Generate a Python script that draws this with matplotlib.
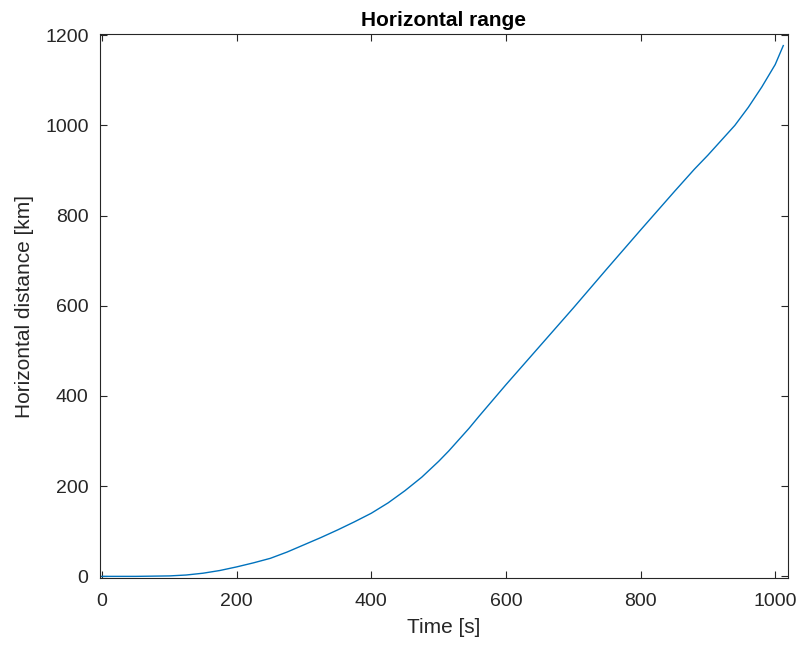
import matplotlib.pyplot as plt

# time [s] and horizontal distance [km]
time_s = [0, 50, 100, 125, 150, 175, 200, 225, 250, 275, 300, 325, 350, 375,
          400, 425, 450, 475, 500, 515, 530, 545, 560, 600, 650, 700, 750, 800,
          850, 880, 900, 920, 940, 960, 980, 1000, 1012]
dist_km = [0, 0, 1, 3, 7, 13, 21, 30, 40, 54, 70, 86, 103, 121,
           140, 163, 190, 220, 255, 278, 303, 328, 355, 425, 510, 595, 682, 768,
           853, 903, 934, 967, 1000, 1040, 1085, 1135, 1177]

x_ticks = [0, 200, 400, 600, 800, 1000]
y_ticks = [0, 200, 400, 600, 800, 1000, 1200]

plt.rcParams['font.family'] = ['Liberation Sans', 'DejaVu Sans']
axis_color = '#262626'

fig = plt.figure(figsize=(8, 6.5), dpi=100)
ax = fig.add_axes([0.1246, 0.1112, 0.8604, 0.836])

ax.plot(time_s, dist_km, color='#0072BD', linewidth=1.0)

ax.set_xlim(-3.5, 1019)
ax.set_ylim(-3, 1202)
ax.set_xticks(x_ticks)
ax.set_yticks(y_ticks)

ax.tick_params(direction='in', top=True, right=True, length=5, width=0.8,
               colors=axis_color, labelsize=14)
ax.tick_params(axis='x', pad=11)
ax.tick_params(axis='y', pad=8)
for spine in ax.spines.values():
    spine.set_color(axis_color)
    spine.set_linewidth(0.8)

ax.set_title("Horizontal range", fontsize=15, fontweight='bold', color='black', pad=6)
ax.set_xlabel("Time [s]", fontsize=15, color=axis_color, labelpad=6)
ax.set_ylabel("Horizontal distance [km]", fontsize=15, color=axis_color, labelpad=8)

fig.savefig("out.png", dpi=100)
